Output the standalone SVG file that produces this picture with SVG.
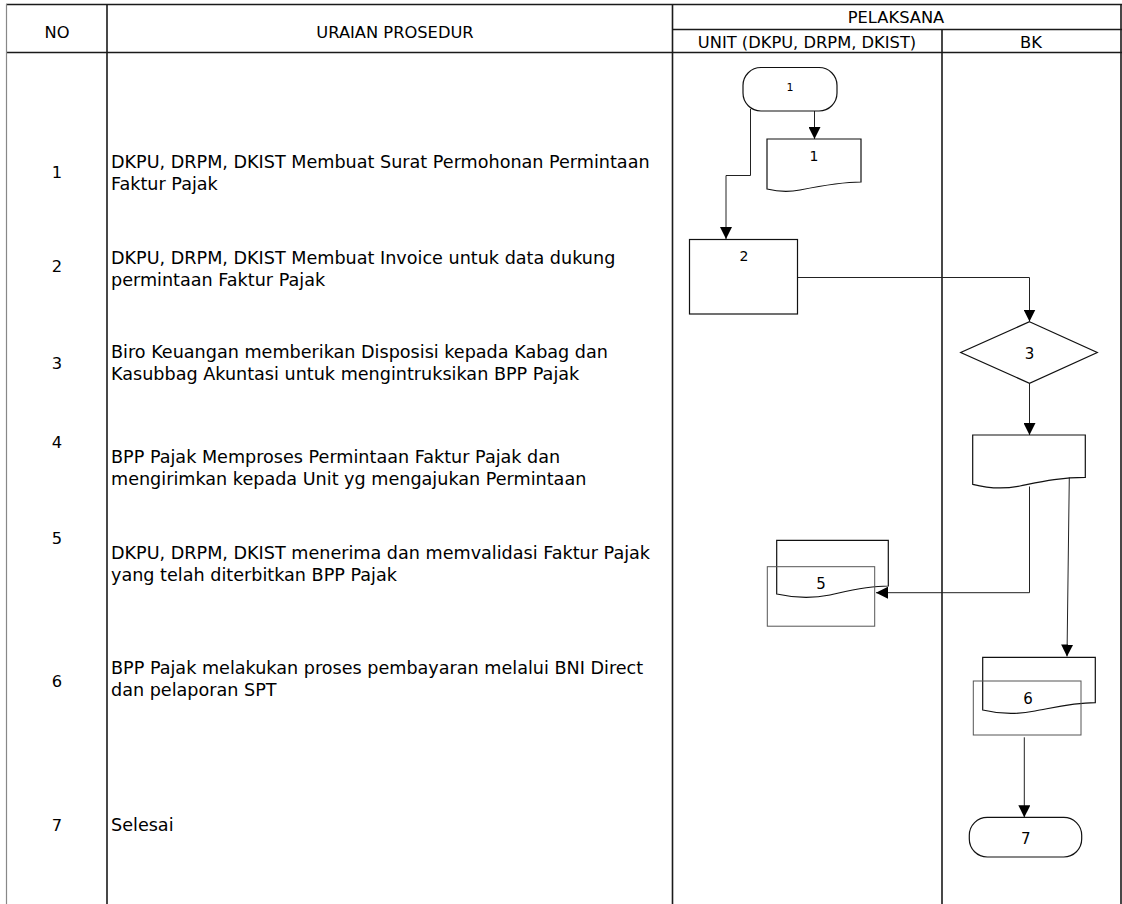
<svg xmlns="http://www.w3.org/2000/svg" width="1122" height="904" viewBox="0 0 1122 904">
<style>
.grid{stroke:#1a1a1a;stroke-width:1.6;fill:none}
.shape{stroke:#111;stroke-width:1.2;fill:none}
.shape2{stroke:#555;stroke-width:1;fill:none}
.conn{stroke:#222;stroke-width:1;fill:none}
.t{font-family:"DejaVu Sans","Open Sans",sans-serif;font-size:17.6px;fill:#000}
.h{font-family:"DejaVu Sans","Open Sans",sans-serif;font-size:16.3px;fill:#000;text-anchor:middle}
.n{font-family:"DejaVu Sans",sans-serif;font-size:14px;fill:#000;text-anchor:middle}
</style>
<defs>
<marker id="arr" markerUnits="userSpaceOnUse" markerWidth="12" markerHeight="12" refX="10" refY="5" orient="auto" viewBox="0 0 10 10">
<path d="M0,0 L10,5 L0,10 Z" fill="#000"/>
</marker>
</defs>
<rect width="1122" height="904" fill="#fff"/>
<g id="table">
<line x1="6" y1="4.5" x2="1122" y2="4.5" class="grid"/>
<line x1="672" y1="29.5" x2="1122" y2="29.5" class="grid"/>
<line x1="6" y1="52.5" x2="1122" y2="52.5" class="grid"/>
<line x1="6.5" y1="4" x2="6.5" y2="904" stroke="#888" stroke-width="1.2"/>
<line x1="107" y1="4" x2="107" y2="904" class="grid"/>
<line x1="672.5" y1="4" x2="672.5" y2="904" class="grid"/>
<line x1="942" y1="29.5" x2="942" y2="904" class="grid"/>
<line x1="1121" y1="4" x2="1121" y2="904" class="grid"/>
<text class="h" x="57" y="37.5">NO</text>
<text class="h" x="395" y="37.5">URAIAN PROSEDUR</text>
<text class="h" x="896" y="23">PELAKSANA</text>
<text class="h" x="807" y="47.5">UNIT (DKPU, DRPM, DKIST)</text>
<text class="h" x="1031" y="47.5">BK</text>
</g>
<g id="rows">
<text class="h" x="57" y="178">1</text>
<text class="t" x="111" y="168">DKPU, DRPM, DKIST Membuat Surat Permohonan Permintaan</text>
<text class="t" x="111" y="189.5">Faktur Pajak</text>
<text class="h" x="57" y="272">2</text>
<text class="t" x="111" y="263.5">DKPU, DRPM, DKIST Membuat Invoice untuk data dukung</text>
<text class="t" x="111" y="286">permintaan Faktur Pajak</text>
<text class="h" x="57" y="369">3</text>
<text class="t" x="111" y="357.5">Biro Keuangan memberikan Disposisi kepada Kabag dan</text>
<text class="t" x="111" y="379.5">Kasubbag Akuntasi untuk mengintruksikan BPP Pajak</text>
<text class="h" x="57" y="448">4</text>
<text class="t" x="111" y="462.5">BPP Pajak Memproses Permintaan Faktur Pajak dan</text>
<text class="t" x="111" y="484.5">mengirimkan kepada Unit yg mengajukan Permintaan</text>
<text class="h" x="57" y="544">5</text>
<text class="t" x="111" y="558.5">DKPU, DRPM, DKIST menerima dan memvalidasi Faktur Pajak</text>
<text class="t" x="111" y="580.5">yang telah diterbitkan BPP Pajak</text>
<text class="h" x="57" y="687">6</text>
<text class="t" x="111" y="673.5">BPP Pajak melakukan proses pembayaran melalui BNI Direct</text>
<text class="t" x="111" y="695.5">dan pelaporan SPT</text>
<text class="h" x="57" y="831">7</text>
<text class="t" x="111" y="831">Selesai</text>
</g>
<g id="connectors">
<line x1="814.5" y1="111" x2="814.5" y2="139" class="conn" marker-end="url(#arr)"/>
<path d="M750.5,109 V175.5 H726 V239" class="conn" marker-end="url(#arr)"/>
<path d="M798,277.5 H1029.5 V321.5" class="conn" marker-end="url(#arr)"/>
<line x1="1029.5" y1="383.5" x2="1029.5" y2="435" class="conn" marker-end="url(#arr)"/>
<path d="M1029.5,486.5 V592.7 H876" class="conn" marker-end="url(#arr)"/>
<line x1="1069.3" y1="477.5" x2="1067" y2="656.5" class="conn" marker-end="url(#arr)"/>
<line x1="1024.3" y1="737.3" x2="1024.3" y2="817.3" class="conn" marker-end="url(#arr)"/>
</g>
<g id="node-start">
<rect x="743" y="67.5" width="94" height="43.5" rx="18" class="shape"/>
<text class="n" x="790" y="91" style="font-size:11px">1</text>
</g>
<g id="node-doc1">
<path d="M767,139 H861 V182 C840,182 820,186 800,190 C785,193 775,191 767,189 Z" class="shape"/>
<text class="n" x="814" y="161">1</text>
</g>
<g id="node-2">
<rect x="689.5" y="239.5" width="108" height="74.5" class="shape"/>
<text class="n" x="744" y="261" style="font-size:14px">2</text>
</g>
<g id="node-3">
<path d="M1029.5,321.7 L1097.3,352.5 L1029.5,383.3 L960.7,352.5 Z" class="shape"/>
<text class="n" x="1029.5" y="359" style="font-size:15px">3</text>
</g>
<g id="node-4">
<path d="M972.7,435 H1085.3 V477.3 C1060,477.3 1040,482 1020,486 C1000,490 985,487.5 972.7,484.3 Z" class="shape"/>
</g>
<g id="node-5">
<path d="M776.7,540.3 H888.3 V586 C866,586 846,591.5 830,595 C810,599 790,597 776.7,594 Z" class="shape"/>
<rect x="767.3" y="566.7" width="107.4" height="59.5" class="shape2"/>
<text class="n" x="821" y="589" style="font-size:15px">5</text>
</g>
<g id="node-6">
<path d="M982.7,657.3 H1095.3 V702.7 C1072,702.7 1052,708 1035,711 C1015,715 995,713 982.7,710 Z" class="shape"/>
<rect x="973.3" y="681" width="107.7" height="54" class="shape2"/>
<text class="n" x="1028" y="704" style="font-size:15px">6</text>
</g>
<g id="node-end">
<rect x="969.3" y="817.3" width="112.4" height="39.7" rx="18" class="shape"/>
<text class="n" x="1025.7" y="844" style="font-size:15px">7</text>
</g>
</svg>
